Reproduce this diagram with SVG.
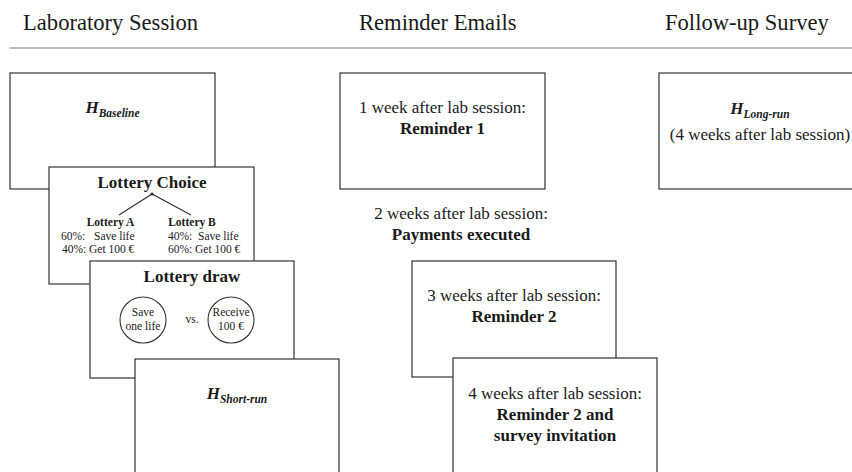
<svg xmlns="http://www.w3.org/2000/svg" width="852" height="472" viewBox="0 0 852 472" font-family="'Liberation Serif', 'Times New Roman', 'DejaVu Serif', serif">
<style>
text{font-family:'Liberation Serif','Times New Roman','DejaVu Serif',serif;fill:#1a1a1a}
.hdr{font-size:22.6px}
.box{fill:#fff;stroke:#333;stroke-width:1.2}
.t17{font-size:17px}
.b17{font-size:17px;font-weight:bold}
.s11{font-size:11.5px}
.b11{font-size:11.5px;font-weight:bold}
.hh{font-size:17px;font-weight:bold;font-style:italic}
.sub{font-size:11.5px}
.circ{fill:#fff;stroke:#333;stroke-width:1.1}
.ln{stroke:#333;stroke-width:1.1;fill:none}
</style>
<g id="headers">
<text class="hdr" x="23" y="30">Laboratory Session</text>
<text class="hdr" x="359" y="30">Reminder Emails</text>
<text class="hdr" x="665" y="30">Follow-up Survey</text>
<line x1="10" y1="48" x2="852" y2="48" stroke="#777" stroke-width="1.2"/>
</g>
<g id="baseline">
<rect class="box" x="10" y="73" width="205" height="116"/>
<text class="hh" x="112.5" y="113" text-anchor="middle">H<tspan class="sub" dy="4">Baseline</tspan></text>
</g>
<g id="lottery-choice">
<rect class="box" x="49" y="167" width="205" height="117"/>
<text class="b17" x="152" y="188" text-anchor="middle">Lottery Choice</text>
<text class="b11" x="110.5" y="226" text-anchor="middle">Lottery A</text>
<text class="s11" x="61" y="240">60%:</text>
<text class="s11" x="94" y="240">Save life</text>
<text class="s11" x="62" y="253">40%:</text>
<text class="s11" x="89" y="253">Get 100 €</text>
<text class="b11" x="192" y="226" text-anchor="middle">Lottery B</text>
<text class="s11" x="168" y="240">40%:</text>
<text class="s11" x="198" y="240">Save life</text>
<text class="s11" x="168" y="253">60%:</text>
<text class="s11" x="195" y="253">Get 100 €</text>
</g>
<g id="connectors">
<polyline class="ln" points="119,215 152,194 191,215"/>
<circle cx="152" cy="194" r="1.6" fill="#333"/>
</g>
<g id="lottery-draw">
<rect class="box" x="90" y="261" width="204" height="117"/>
<text class="b17" x="192" y="282" text-anchor="middle">Lottery draw</text>
<circle class="circ" cx="143" cy="320" r="23"/>
<text class="s11" x="143" y="316" text-anchor="middle">Save</text>
<text class="s11" x="143" y="330" text-anchor="middle">one life</text>
<text class="s11" x="192" y="323" text-anchor="middle">vs.</text>
<circle class="circ" cx="231" cy="320" r="23"/>
<text class="s11" x="231" y="316" text-anchor="middle">Receive</text>
<text class="s11" x="231" y="330" text-anchor="middle">100 €</text>
</g>
<g id="short-run">
<rect class="box" x="135" y="359" width="204" height="118"/>
<text class="hh" x="237" y="399" text-anchor="middle">H<tspan class="sub" dy="4">Short-run</tspan></text>
</g>
<g id="reminder1">
<rect class="box" x="340" y="73" width="205" height="116"/>
<text class="t17" x="442.5" y="113" text-anchor="middle">1 week after lab session:</text>
<text class="b17" x="442.5" y="134" text-anchor="middle">Reminder 1</text>
</g>
<g id="payments">
<text class="t17" x="461" y="219" text-anchor="middle">2 weeks after lab session:</text>
<text class="b17" x="461" y="240" text-anchor="middle">Payments executed</text>
</g>
<g id="reminder2">
<rect class="box" x="412" y="261" width="204" height="116"/>
<text class="t17" x="514" y="301" text-anchor="middle">3 weeks after lab session:</text>
<text class="b17" x="514" y="322" text-anchor="middle">Reminder 2</text>
</g>
<g id="reminder3">
<rect class="box" x="453" y="358" width="204" height="119"/>
<text class="t17" x="555" y="399" text-anchor="middle">4 weeks after lab session:</text>
<text class="b17" x="555" y="420" text-anchor="middle">Reminder 2 and</text>
<text class="b17" x="555" y="441" text-anchor="middle">survey invitation</text>
</g>
<g id="long-run">
<rect class="box" x="659" y="73" width="205" height="116"/>
<text class="hh" x="760" y="114" text-anchor="middle">H<tspan class="sub" dy="4">Long-run</tspan></text>
<text class="t17" x="760" y="140" text-anchor="middle">(4 weeks after lab session)</text>
</g>
</svg>
